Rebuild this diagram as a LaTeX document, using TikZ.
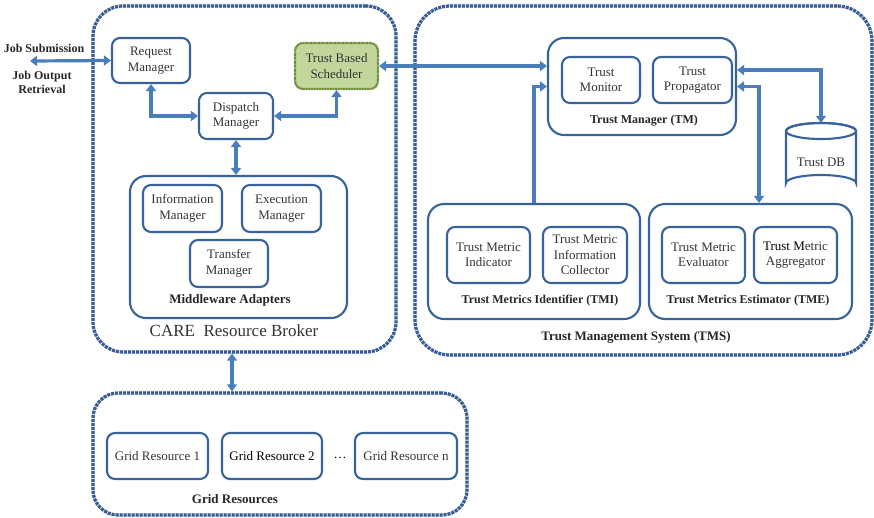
\documentclass[tikz,border=0pt]{standalone}
\usepackage{fontspec}
\setmainfont{Liberation Serif}
\usetikzlibrary{arrows.meta,calc}
\definecolor{connc}{HTML}{4A7EBB}
\definecolor{boxc}{HTML}{38629A}
\definecolor{outd}{HTML}{3A5E93}
\definecolor{outl}{HTML}{A9BCDA}
\definecolor{txtc}{HTML}{333333}
\definecolor{schfill}{HTML}{C3D69B}
\definecolor{schdraw}{HTML}{6E8F3C}
\tikzset{
  box/.style={draw=boxc, line width=2.1pt, rounded corners=8pt, align=center,
    text=txtc, font=\fontsize{13}{15.5}\selectfont, inner sep=0pt},
  group/.style={draw=boxc, line width=2.1pt, rounded corners=16pt, inner sep=0pt},
  outer/.style={preaction={draw=outl, line width=3.2pt}, draw=outd,
    dash pattern=on 3pt off 1pt, line width=3.2pt, inner sep=0pt},
  lbl/.style={font=\fontsize{12}{14}\selectfont\bfseries, text=black!85, align=center, inner sep=0pt},
  lblb/.style={font=\fontsize{13}{15}\selectfont\bfseries, text=black!85, align=center, inner sep=0pt},
  conn/.style={draw=connc, line width=3.2pt,
    {Triangle[length=7pt,width=10pt]}-{Triangle[length=7pt,width=10pt]}},
  conn1/.style={draw=connc, line width=3.2pt, -{Triangle[length=7pt,width=10pt]}}
}
\begin{document}
\begin{tikzpicture}[x=1pt,y=-1pt]
\useasboundingbox (0,0) rectangle (874,517);
% outer containers
\node[outer, rounded corners=30pt, minimum width=303pt, minimum height=346pt] (care) at (244.5,179) {};
\node[outer, rounded corners=35pt, minimum width=457pt, minimum height=349pt] (tms) at (643.5,180.5) {};
\node[outer, rounded corners=25pt, minimum width=374pt, minimum height=122pt] (grid) at (280,454) {};
% CARE broker
\node[box, minimum width=78pt, minimum height=45pt] (rm) at (151,60.5) {Request\\Manager};
\node[box, fill=schfill, draw=schdraw, dash pattern=on 1.2pt off 0.4pt, minimum width=83pt, minimum height=46pt] (tbs) at (336.5,66) {Trust Based\\Scheduler};
\node[box, minimum width=74pt, minimum height=46pt] (dm) at (236,116) {Dispatch\\Manager};
\node[group, minimum width=217pt, minimum height=142pt] (ma) at (238.5,247) {};
\node[box, minimum width=79pt, minimum height=47pt] (im) at (182.5,208.5) {Information\\Manager};
\node[box, minimum width=79pt, minimum height=47pt] (em) at (281.5,208.5) {Execution\\Manager};
\node[box, minimum width=78pt, minimum height=47pt] (tfm) at (229,263.5) {Transfer\\Manager};
\node[lblb] (malbl) at (230,300) {Middleware Adapters};
\node[font=\fontsize{17}{19}\selectfont, text=txtc, inner sep=0pt] (carelbl) at (234,331) {CARE\ \ Resource Broker};
% job texts
\node[lbl] (js) at (44,48) {Job Submission};
\node[lbl] (jo) at (42,82) {Job Output\\Retrieval};
\coordinate (jobL) at (30,61);
% TMS
\node[group, minimum width=188pt, minimum height=97pt] (tm) at (642,86.5) {};
\node[box, minimum width=78pt, minimum height=46pt] (tmon) at (601,80) {Trust\\Monitor};
\node[box, minimum width=79pt, minimum height=46pt] (tprop) at (692.5,80) {Trust\\Propagator};
\node[lbl] (tmlbl) at (644,121) {Trust Manager (TM)};
\node[group, minimum width=212pt, minimum height=115pt] (tmi) at (534,261.5) {};
\node[box, minimum width=83pt, minimum height=56pt] (tmind) at (488.5,255) {Trust Metric\\Indicator};
\node[box, minimum width=84pt, minimum height=56pt] (tmic) at (585,255) {Trust Metric\\Information\\Collector};
\node[lbl] (tmilbl) at (540,301) {Trust Metrics Identifier (TMI)};
\node[group, minimum width=203pt, minimum height=115pt] (tme) at (750.5,261.5) {};
\node[box, minimum width=83pt, minimum height=56pt] (tmev) at (703.5,255) {Trust Metric\\Evaluator};
\node[box, minimum width=83pt, minimum height=56pt] (tmag) at (795.5,255) {\textcolor{black}{Trust M}etric\\Aggregator};
\node[lbl] (tmelbl) at (748,301) {Trust Metrics Estimator (TME)};
\node[lblb] (tmslbl) at (636,337) {Trust Management System (TMS)};
% Trust DB cylinder
\node[minimum width=70pt, minimum height=68pt, inner sep=0pt] (db) at (821,157) {};
\draw[draw=boxc, line width=2.1pt, fill=white]
  (786,131) -- (786,183) arc[start angle=180, end angle=360, x radius=35, y radius=8]
  -- (856,131) arc[start angle=0, end angle=-180, x radius=35, y radius=8];
\draw[draw=boxc, line width=2.1pt] (821,131) ellipse[x radius=35, y radius=8];
\node[text=txtc, font=\fontsize{13}{15.5}\selectfont, inner sep=0pt] (dblbl) at (821,162) {Trust DB};
% Grid resources
\node[box, minimum width=101pt, minimum height=46pt] (gr1) at (157.5,456) {Grid Resource 1};
\node[box, minimum width=100pt, minimum height=46pt, text=black] (gr2) at (272,456) {Grid Resource 2};
\node[box, minimum width=102pt, minimum height=46pt] (grn) at (406,456) {Grid Resource n};
\node[text=black, font=\fontsize{13}{15}\selectfont, inner sep=0pt] (dots) at (340,458) {\dots};
\node[lblb] (gridlbl) at (235,499) {Grid Resources};
% connectors
\draw[conn] (jobL) -- (rm.west);
\draw[conn] (rm.south) |- (dm.west);
\draw[conn] (tbs.south) |- (dm.east);
\draw[conn] (dm.south) -- (dm.south |- ma.north);
\draw[conn] ([xshift=-12.5pt]care.south) -- ([xshift=-12.5pt]care.south |- grid.north);
\draw[conn] (tbs.east) -- (tbs.east -| tm.west);
\draw[conn1] (tmi.north) |- (tm.west);
\draw[conn] ([yshift=16.5pt]tm.east) -| (db.north);
\draw[conn] (tm.east) -| ([xshift=8.5pt]tme.north);
\end{tikzpicture}
\end{document}
